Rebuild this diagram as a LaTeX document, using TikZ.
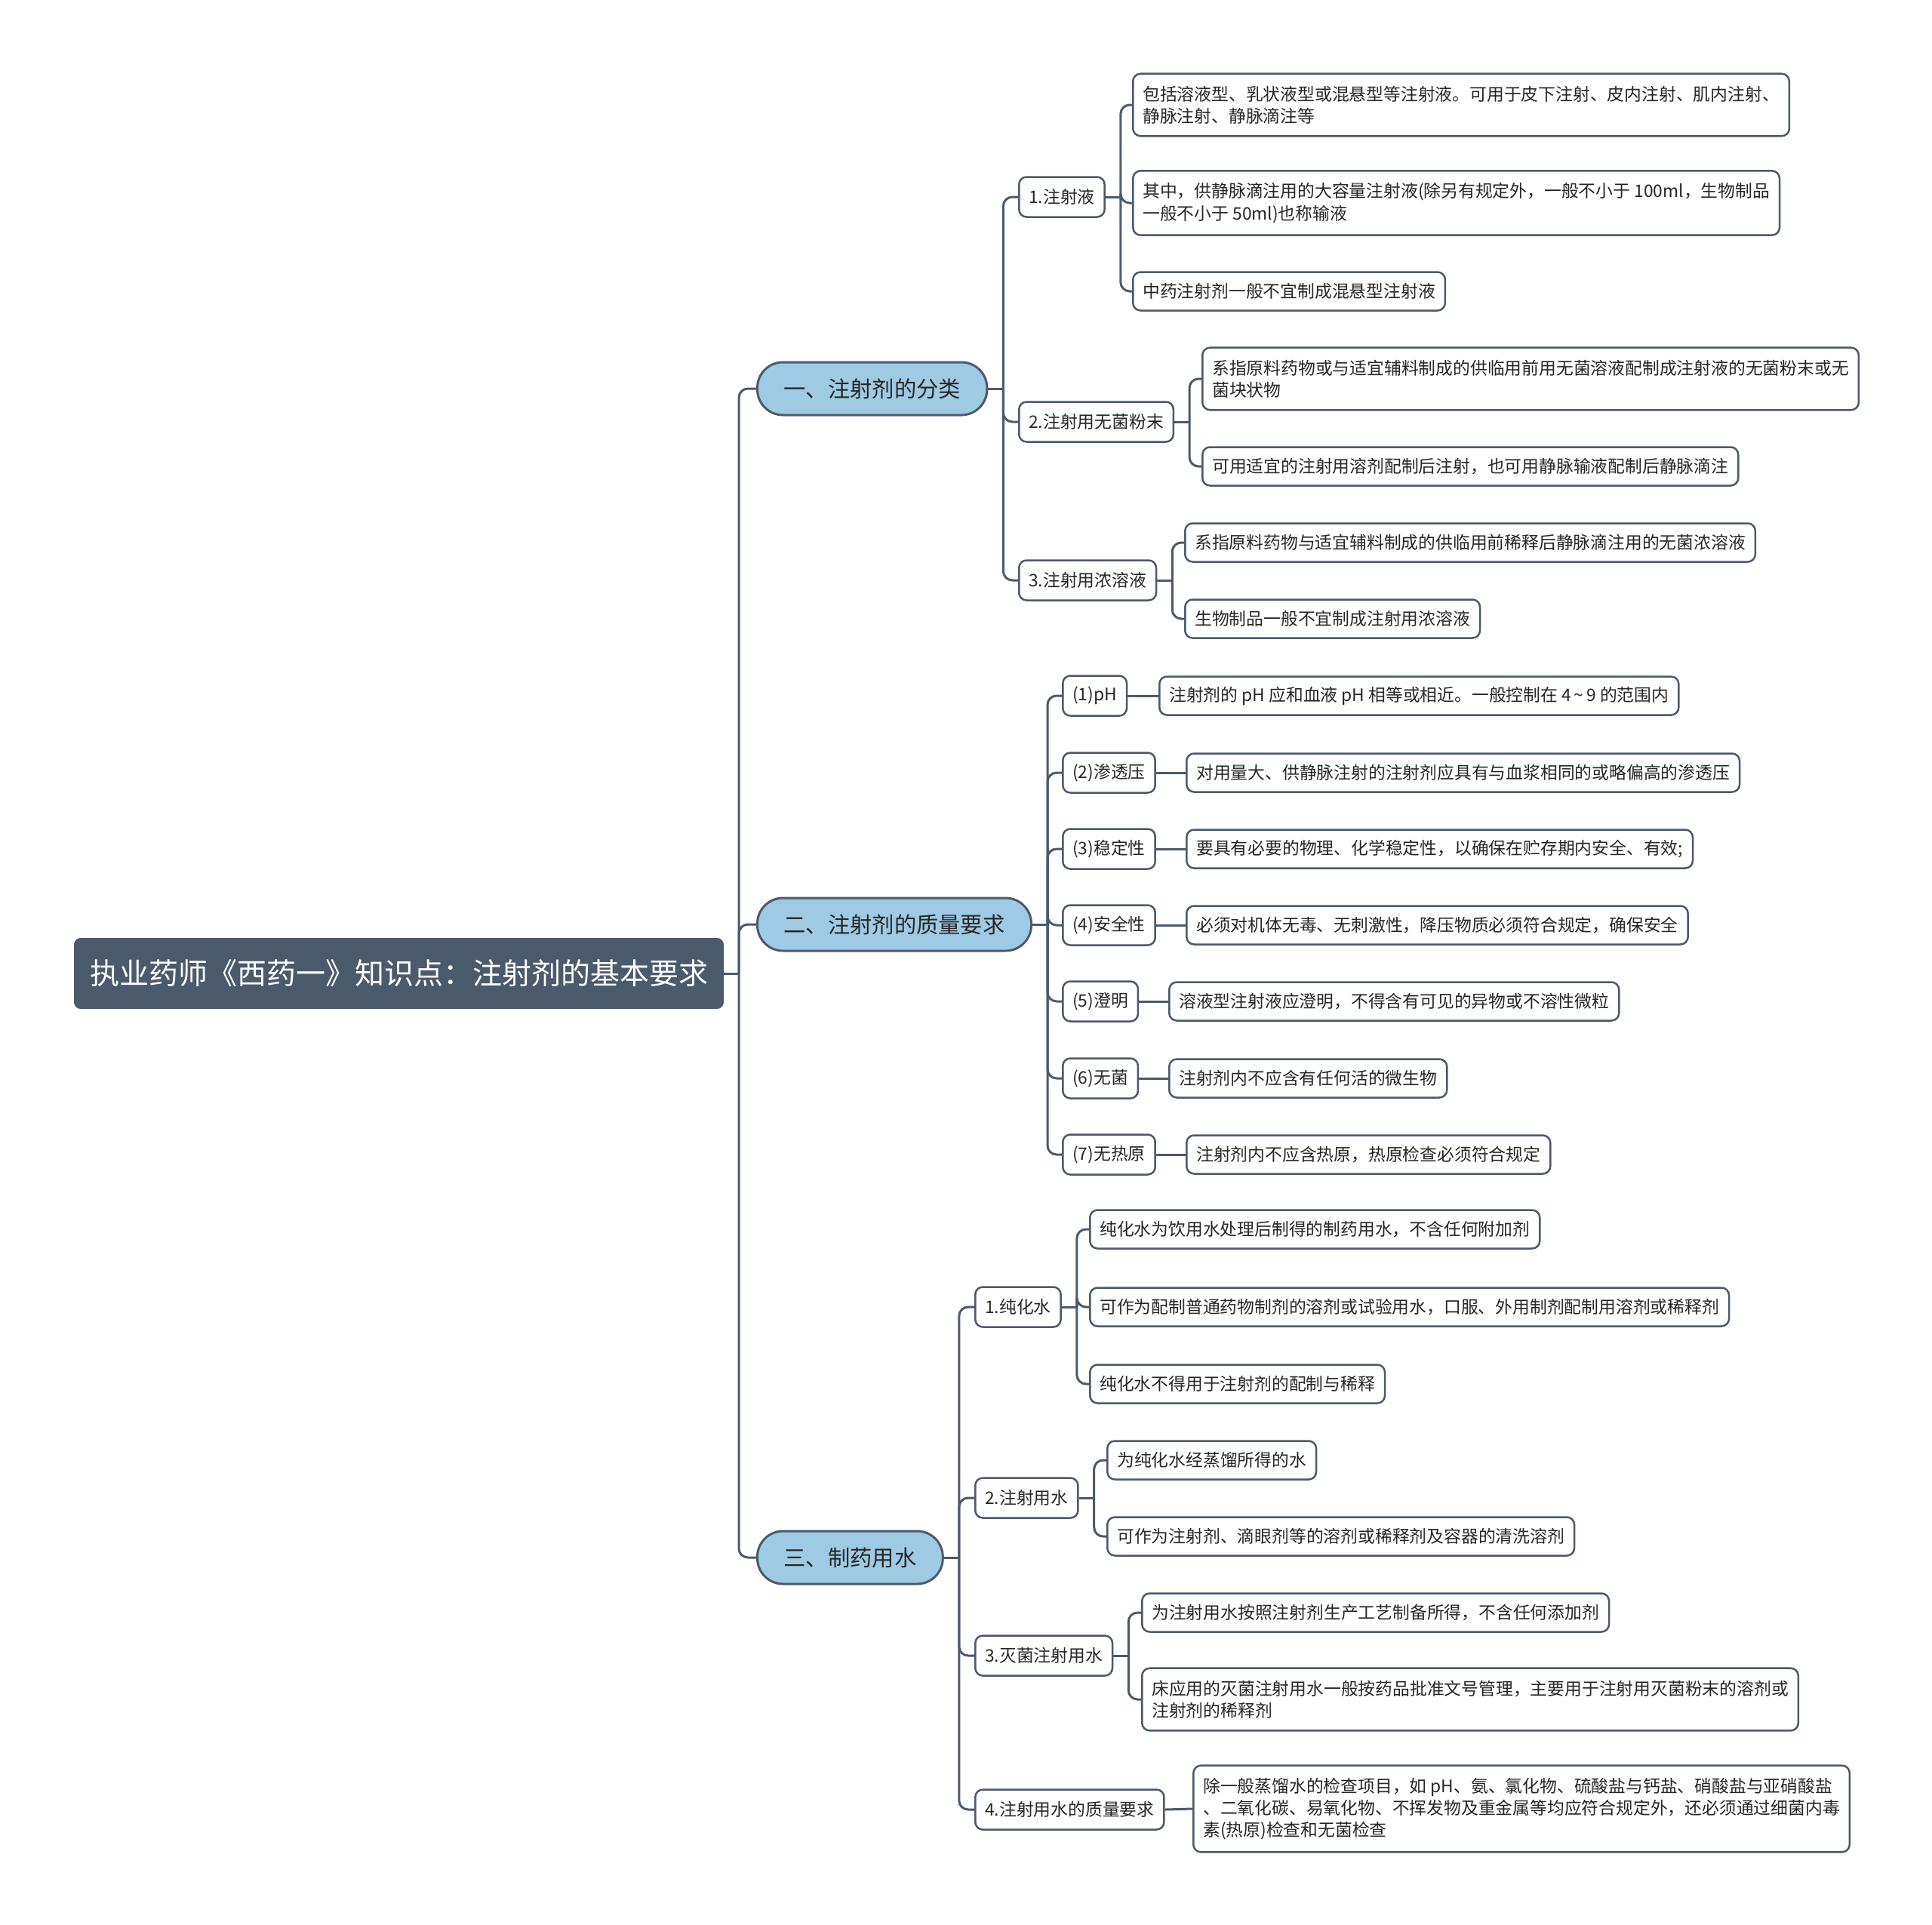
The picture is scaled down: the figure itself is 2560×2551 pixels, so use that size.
\documentclass[tikz,border=0pt]{standalone}
\usepackage{fontspec}
\setmainfont{Noto Sans CJK SC}
\usetikzlibrary{positioning,calc}
\definecolor{slate}{HTML}{4B5B6B}
\definecolor{skyfill}{HTML}{9ECBE3}
\definecolor{ink}{HTML}{262626}
\tikzset{
  rootbox/.style={draw=slate,fill=slate,text=white,rounded corners=8pt,line width=2pt,minimum height=92pt,inner xsep=20pt,anchor=west,font=\fontsize{39}{46}\selectfont},
  topic/.style={draw=slate,fill=skyfill,line width=3pt,rounded corners=34pt,minimum height=70pt,inner xsep=35pt,anchor=west,text=ink,font=\fontsize{29.3}{35}\selectfont},
  sub/.style={draw=slate,fill=white,line width=2.5pt,rounded corners=10pt,minimum height=53pt,inner xsep=13pt,anchor=west,text=ink,font=\fontsize{22.8}{29.4}\selectfont},
  leaf/.style={sub,minimum height=51pt,inner ysep=12pt,align=left},
  wideleaf/.style={leaf,inner ysep=16pt},
  branch/.style={draw=slate,line width=3pt,rounded corners=12pt},
}
\begin{document}
\begin{tikzpicture}[x=1pt,y=-1pt]
\useasboundingbox (0,0) rectangle (2560,2551);
% root and main topics
\node[rootbox] (root) at (98,1290) {执业药师《西药一》知识点：注射剂的基本要求};
\node[topic] (cls) at (1002,515) {一、注射剂的分类};
\node[topic] (qual) at (1002,1225) {二、注射剂的质量要求};
\node[topic] (water) at (1002,2064) {三、制药用水};

% 一
\node[sub] (cls1) at (1349,261) {1.注射液};
\node[sub] (cls2) at (1349,559) {2.注射用无菌粉末};
\node[sub] (cls3) at (1349,769) {3.注射用浓溶液};
\node[wideleaf] (cls11) at (1500,139) {包括溶液型、乳状液型或混悬型等注射液。可用于皮下注射、皮内注射、肌内注射、\\静脉注射、静脉滴注等};
\node[wideleaf] (cls12) at (1500,269) {其中，供静脉滴注用的大容量注射液(除另有规定外，一般不小于 100ml，生物制品\\一般不小于 50ml)也称输液};
\node[leaf] (cls13) at (1500,386) {中药注射剂一般不宜制成混悬型注射液};
\node[wideleaf] (cls21) at (1592,502) {系指原料药物或与适宜辅料制成的供临用前用无菌溶液配制成注射液的无菌粉末或无\\菌块状物};
\node[leaf] (cls22) at (1592,618) {可用适宜的注射用溶剂配制后注射，也可用静脉输液配制后静脉滴注};
\node[leaf] (cls31) at (1569,719) {系指原料药物与适宜辅料制成的供临用前稀释后静脉滴注用的无菌浓溶液};
\node[leaf] (cls32) at (1569,820) {生物制品一般不宜制成注射用浓溶液};

% 二
\node[sub] (q1) at (1407,922) {(1)pH};
\node[sub] (q2) at (1407,1024) {(2)渗透压};
\node[sub] (q3) at (1407,1125) {(3)稳定性};
\node[sub] (q4) at (1407,1226) {(4)安全性};
\node[sub] (q5) at (1407,1327) {(5)澄明};
\node[sub] (q6) at (1407,1429) {(6)无菌};
\node[sub] (q7) at (1407,1530) {(7)无热原};
\node[leaf] (q1t) at (1535,922) {注射剂的 pH 应和血液 pH 相等或相近。一般控制在 4\,\textasciitilde\,9 的范围内};
\node[leaf] (q2t) at (1571,1024) {对用量大、供静脉注射的注射剂应具有与血浆相同的或略偏高的渗透压};
\node[leaf] (q3t) at (1571,1125) {要具有必要的物理、化学稳定性，以确保在贮存期内安全、有效;};
\node[leaf] (q4t) at (1571,1226) {必须对机体无毒、无刺激性，降压物质必须符合规定，确保安全};
\node[leaf] (q5t) at (1548,1327) {溶液型注射液应澄明，不得含有可见的异物或不溶性微粒};
\node[leaf] (q6t) at (1548,1429) {注射剂内不应含有任何活的微生物};
\node[leaf] (q7t) at (1571,1530) {注射剂内不应含热原，热原检查必须符合规定};

% 三
\node[sub] (w1) at (1291,1732) {1.纯化水};
\node[sub] (w2) at (1291,1985) {2.注射用水};
\node[sub] (w3) at (1291,2194) {3.灭菌注射用水};
\node[sub] (w4) at (1291,2398) {4.注射用水的质量要求};
\node[leaf] (w11) at (1443,1629) {纯化水为饮用水处理后制得的制药用水，不含任何附加剂};
\node[leaf] (w12) at (1443,1732) {可作为配制普通药物制剂的溶剂或试验用水，口服、外用制剂配制用溶剂或稀释剂};
\node[leaf] (w13) at (1443,1834) {纯化水不得用于注射剂的配制与稀释};
\node[leaf] (w21) at (1466,1935) {为纯化水经蒸馏所得的水};
\node[leaf] (w22) at (1466,2036) {可作为注射剂、滴眼剂等的溶剂或稀释剂及容器的清洗溶剂};
\node[leaf] (w31) at (1512,2137) {为注射用水按照注射剂生产工艺制备所得，不含任何添加剂};
\node[wideleaf] (w32) at (1512,2252) {床应用的灭菌注射用水一般按药品批准文号管理，主要用于注射用灭菌粉末的溶剂或\\注射剂的稀释剂};
\node[wideleaf] (w41) at (1580,2397) {除一般蒸馏水的检查项目，如 pH、氨、氯化物、硫酸盐与钙盐、硝酸盐与亚硝酸盐\\、二氧化碳、易氧化物、不挥发物及重金属等均应符合规定外，还必须通过细菌内毒\\素(热原)检查和无菌检查};

% connectors
\coordinate (jroot) at ([xshift=20pt]root.east);
\draw[branch] (root.east) -- (jroot);
\foreach \c in {cls,qual,water} \draw[branch] (jroot) |- (\c.west);
\coordinate (jcls) at ([xshift=20pt]cls.east);
\draw[branch] (cls.east) -- (jcls);
\foreach \c in {cls1,cls2,cls3} \draw[branch] (jcls) |- (\c.west);
\coordinate (jcls1) at ([xshift=20pt]cls1.east);
\draw[branch] (cls1.east) -- (jcls1);
\foreach \c in {cls11,cls12,cls13} \draw[branch] (jcls1) |- (\c.west);
\coordinate (jcls2) at ([xshift=20pt]cls2.east);
\draw[branch] (cls2.east) -- (jcls2);
\foreach \c in {cls21,cls22} \draw[branch] (jcls2) |- (\c.west);
\coordinate (jcls3) at ([xshift=20pt]cls3.east);
\draw[branch] (cls3.east) -- (jcls3);
\foreach \c in {cls31,cls32} \draw[branch] (jcls3) |- (\c.west);
\coordinate (jqual) at ([xshift=20pt]qual.east);
\draw[branch] (qual.east) -- (jqual);
\foreach \c in {q1,q2,q3,q4,q5,q6,q7} {
  \draw[branch] (jqual) |- (\c.west);
  \draw[branch] (\c.east) -- (\c t.west);
}
\coordinate (jwater) at ([xshift=20pt]water.east);
\draw[branch] (water.east) -- (jwater);
\foreach \c in {w1,w2,w3,w4} \draw[branch] (jwater) |- (\c.west);
\coordinate (jw1) at ([xshift=20pt]w1.east);
\draw[branch] (w1.east) -- (jw1);
\foreach \c in {w11,w12,w13} \draw[branch] (jw1) |- (\c.west);
\coordinate (jw2) at ([xshift=20pt]w2.east);
\draw[branch] (w2.east) -- (jw2);
\foreach \c in {w21,w22} \draw[branch] (jw2) |- (\c.west);
\coordinate (jw3) at ([xshift=20pt]w3.east);
\draw[branch] (w3.east) -- (jw3);
\foreach \c in {w31,w32} \draw[branch] (jw3) |- (\c.west);
\draw[branch] (w4.east) -- (w41.west);
\end{tikzpicture}
\end{document}
